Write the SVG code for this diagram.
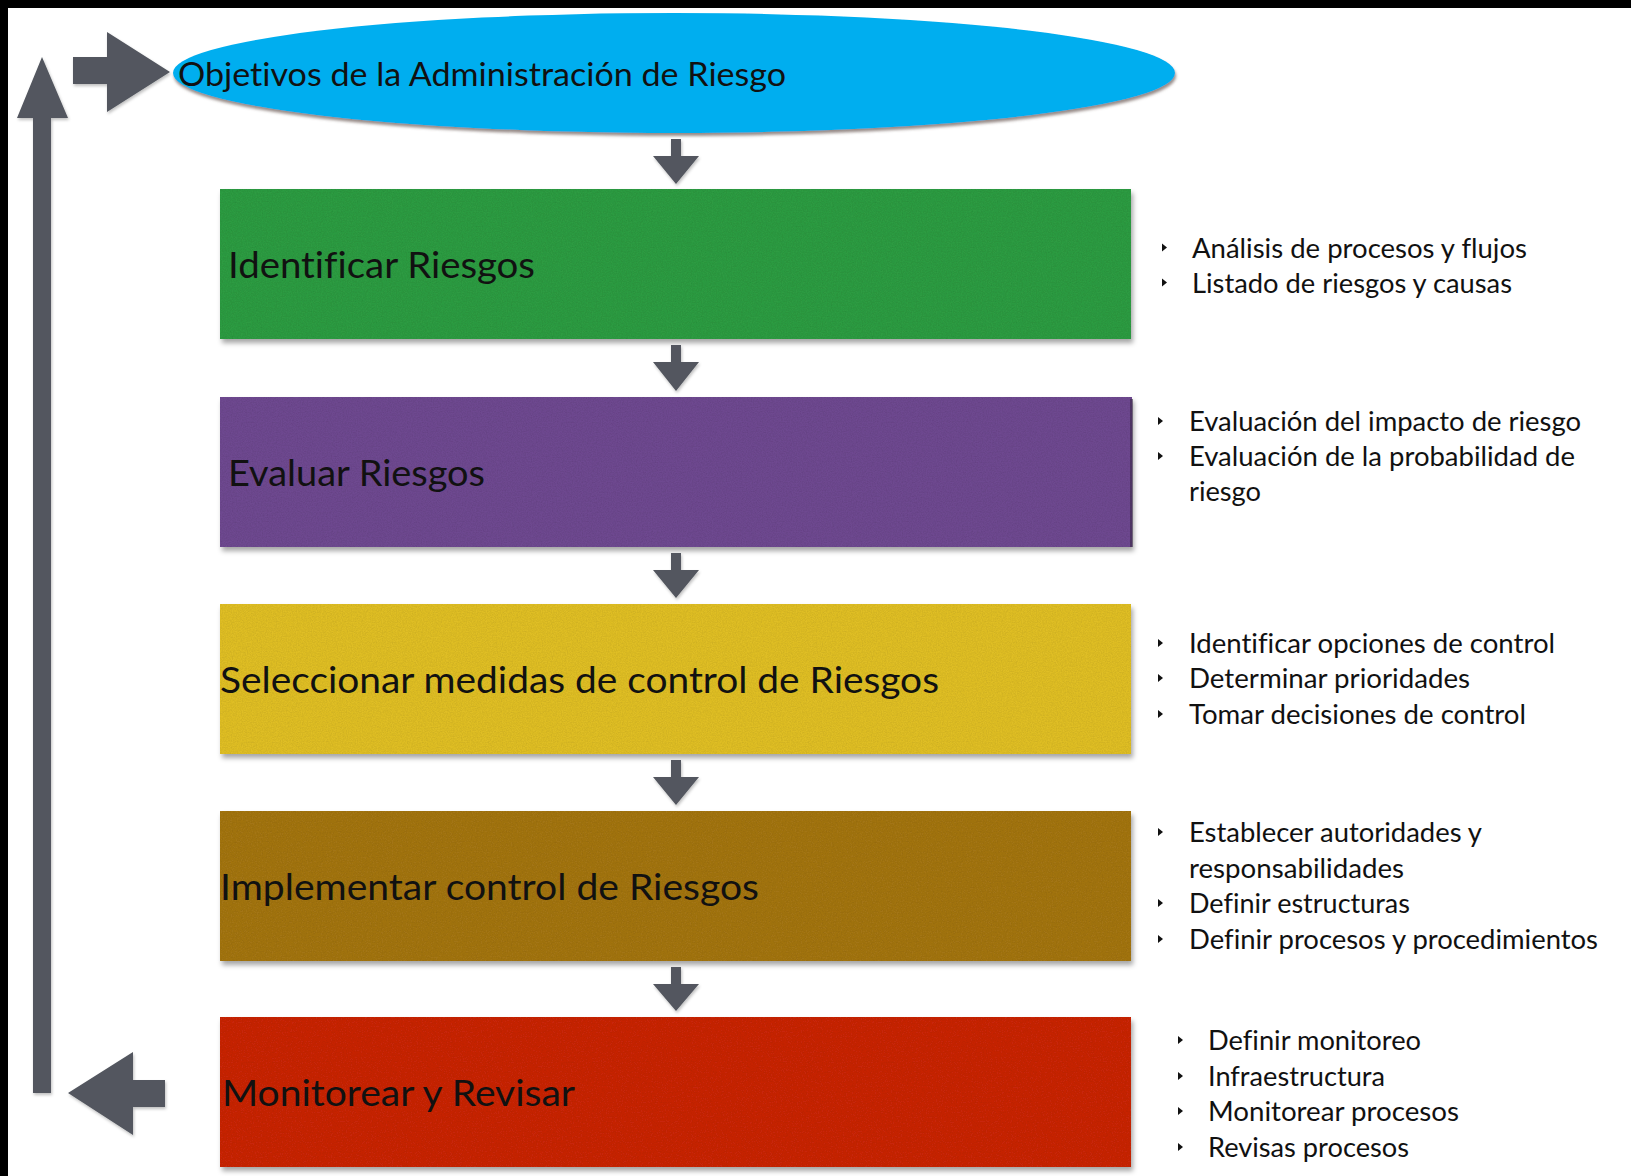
<svg xmlns="http://www.w3.org/2000/svg" width="1631" height="1176" viewBox="0 0 1631 1176">
<style>
.t{font-family:Lato,"Open Sans","Liberation Sans",sans-serif;fill:#111;font-variant-ligatures:none;font-feature-settings:"liga" 0}
.lbl{font-size:37px}
.ttl{font-size:33px}
.bul{font-size:26px}
.arr{fill:#52565E}
.dot{fill:#111}
</style>
<defs>
<filter id="box" x="-2%" y="-5%" width="105%" height="115%">
<feGaussianBlur in="SourceAlpha" stdDeviation="2.5"/>
<feOffset dx="2" dy="4" result="ob"/>
<feFlood flood-color="#000" flood-opacity="0.35"/>
<feComposite in2="ob" operator="in" result="sh"/>
<feTurbulence type="fractalNoise" baseFrequency="0.8" numOctaves="2" seed="5" result="n"/>
<feColorMatrix in="n" type="matrix" values="0 0 0 0 0  0 0 0 0 0  0 0 0 0 0  0.3 0 0 0 -0.1" result="na"/>
<feComposite in="na" in2="SourceAlpha" operator="in" result="tex"/>
<feMerge><feMergeNode in="sh"/><feMergeNode in="SourceGraphic"/><feMergeNode in="tex"/></feMerge>
</filter>
<filter id="ell" x="-2%" y="-10%" width="104%" height="125%">
<feGaussianBlur in="SourceAlpha" stdDeviation="1.5"/>
<feOffset dx="1" dy="3" result="ob"/>
<feFlood flood-color="#6b5a55" flood-opacity="0.7"/>
<feComposite in2="ob" operator="in" result="sh"/>
<feMerge><feMergeNode in="sh"/><feMergeNode in="SourceGraphic"/></feMerge>
</filter>
<filter id="ash" x="-20%" y="-20%" width="140%" height="140%">
<feGaussianBlur in="SourceAlpha" stdDeviation="1.5"/>
<feOffset dx="1" dy="2" result="ob"/>
<feFlood flood-color="#000" flood-opacity="0.25"/>
<feComposite in2="ob" operator="in" result="sh"/>
<feMerge><feMergeNode in="sh"/><feMergeNode in="SourceGraphic"/></feMerge>
</filter>
</defs>
<rect x="0" y="0" width="1631" height="1176" fill="#fff"/>
<rect x="0" y="0" width="1631" height="8" fill="#000"/>
<rect x="0" y="0" width="8" height="1176" fill="#000"/>

<g id="objetivos">
<ellipse cx="674" cy="73" rx="501" ry="60" fill="#00AEEF" filter="url(#ell)"/>
<text class="t ttl" x="178" y="86" textLength="608" lengthAdjust="spacingAndGlyphs">Objetivos de la Administración de Riesgo</text>
</g>

<g id="identificar">
<rect x="220" y="189" width="911" height="150" fill="#2E9B43" filter="url(#box)"/>
<text class="t lbl" x="228" y="278" textLength="307" lengthAdjust="spacingAndGlyphs">Identificar Riesgos</text>
<polygon class="dot" points="1162,243.5 1167,247.5 1162,251.5"/>
<text class="t bul" x="1192" y="258" textLength="335" lengthAdjust="spacingAndGlyphs">Análisis de procesos y flujos</text>
<polygon class="dot" points="1162,278.5 1167,282.5 1162,286.5"/>
<text class="t bul" x="1192" y="293" textLength="320" lengthAdjust="spacingAndGlyphs">Listado de riesgos y causas</text>
</g>

<g id="evaluar">
<rect x="220" y="397" width="912" height="150" fill="#6E4890" filter="url(#box)"/>
<rect x="1130" y="399" width="3" height="148" fill="#3a2a48" opacity="0.6"/>
<text class="t lbl" x="228" y="486" textLength="257" lengthAdjust="spacingAndGlyphs">Evaluar Riesgos</text>
<polygon class="dot" points="1158,417 1163,421 1158,425"/>
<text class="t bul" x="1189" y="431" textLength="392" lengthAdjust="spacingAndGlyphs">Evaluación del impacto de riesgo</text>
<polygon class="dot" points="1158,452 1163,456 1158,460"/>
<text class="t bul" x="1189" y="466" textLength="386" lengthAdjust="spacingAndGlyphs">Evaluación de la probabilidad de</text>
<text class="t bul" x="1189" y="501" textLength="72" lengthAdjust="spacingAndGlyphs">riesgo</text>
</g>

<g id="seleccionar">
<rect x="220" y="604" width="911" height="150" fill="#DFBE26" filter="url(#box)"/>
<text class="t lbl" x="220" y="693" textLength="719" lengthAdjust="spacingAndGlyphs">Seleccionar medidas de control de Riesgos</text>
<polygon class="dot" points="1158,639 1163,643 1158,647"/>
<text class="t bul" x="1189" y="653" textLength="366" lengthAdjust="spacingAndGlyphs">Identificar opciones de control</text>
<polygon class="dot" points="1158,674 1163,678 1158,682"/>
<text class="t bul" x="1189" y="688" textLength="281" lengthAdjust="spacingAndGlyphs">Determinar prioridades</text>
<polygon class="dot" points="1158,710 1163,714 1158,718"/>
<text class="t bul" x="1189" y="724" textLength="337" lengthAdjust="spacingAndGlyphs">Tomar decisiones de control</text>
</g>

<g id="implementar">
<rect x="220" y="811" width="911" height="150" fill="#A37513" filter="url(#box)"/>
<text class="t lbl" x="220" y="900" textLength="539" lengthAdjust="spacingAndGlyphs">Implementar control de Riesgos</text>
<polygon class="dot" points="1158,828 1163,832 1158,836"/>
<text class="t bul" x="1189" y="842" textLength="293" lengthAdjust="spacingAndGlyphs">Establecer autoridades y</text>
<text class="t bul" x="1189" y="878" textLength="215" lengthAdjust="spacingAndGlyphs">responsabilidades</text>
<polygon class="dot" points="1158,899 1163,903 1158,907"/>
<text class="t bul" x="1189" y="913" textLength="221" lengthAdjust="spacingAndGlyphs">Definir estructuras</text>
<polygon class="dot" points="1158,935 1163,939 1158,943"/>
<text class="t bul" x="1189" y="949" textLength="409" lengthAdjust="spacingAndGlyphs">Definir procesos y procedimientos</text>
</g>

<g id="monitorear">
<rect x="220" y="1017" width="911" height="150" fill="#C8270B" filter="url(#box)"/>
<text class="t lbl" x="222" y="1106" textLength="353" lengthAdjust="spacingAndGlyphs">Monitorear y Revisar</text>
<polygon class="dot" points="1178,1036 1183,1040 1178,1044"/>
<text class="t bul" x="1208" y="1050" textLength="213" lengthAdjust="spacingAndGlyphs">Definir monitoreo</text>
<polygon class="dot" points="1178,1072 1183,1076 1178,1080"/>
<text class="t bul" x="1208" y="1086" textLength="177" lengthAdjust="spacingAndGlyphs">Infraestructura</text>
<polygon class="dot" points="1178,1107 1183,1111 1178,1115"/>
<text class="t bul" x="1208" y="1121" textLength="251" lengthAdjust="spacingAndGlyphs">Monitorear procesos</text>
<polygon class="dot" points="1178,1143 1183,1147 1178,1151"/>
<text class="t bul" x="1208" y="1157" textLength="201" lengthAdjust="spacingAndGlyphs">Revisas procesos</text>
</g>

<g id="connectors" filter="url(#ash)">
<polygon class="arr" points="671,139 681,139 681,156 699,156 676,184 653,156 671,156"/>
<polygon class="arr" points="671,345 681,345 681,362 699,362 676,391 653,362 671,362"/>
<polygon class="arr" points="671,553 681,553 681,570 699,570 676,598 653,570 671,570"/>
<polygon class="arr" points="671,760 681,760 681,777 699,777 676,805 653,777 671,777"/>
<polygon class="arr" points="671,967 681,967 681,984 699,984 676,1011 653,984 671,984"/>
<polygon class="arr" points="165,1080 165,1107 133,1107 133,1135 68,1093 133,1052 133,1080"/>
<polygon class="arr" points="33,1093 33,118 17,118 42,57 68,118 51,118 51,1093"/>
<polygon class="arr" points="73,57 107,57 107,32 170,72 107,112 107,84 73,84"/>
</g>
</svg>
